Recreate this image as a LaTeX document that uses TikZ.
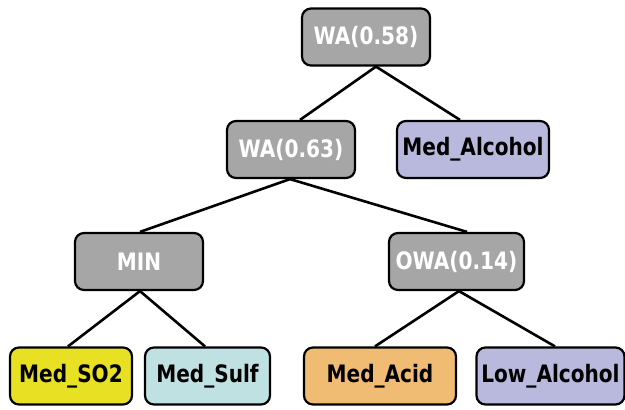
\documentclass[tikz,border=0pt]{standalone}
\usepackage{fontspec}
\setmainfont{DejaVu Sans Condensed}
\newfontfamily\nodefont[FakeStretch=0.93]{DejaVu Sans Condensed Bold}
\definecolor{opgray}{HTML}{A6A6A6}
\definecolor{cyel}{HTML}{E8E022}
\definecolor{cteal}{HTML}{BFE1E1}
\definecolor{corange}{HTML}{F0BB72}
\definecolor{clav}{HTML}{B9B9DD}
\tikzset{
  box/.style={draw=black, line width=2.2pt, rounded corners=9pt, inner sep=0pt,
    minimum height=57pt, font=\nodefont\fontsize{24}{27}\selectfont},
  opbox/.style={box, fill=opgray, text=white, minimum width=128pt},
  leaf/.style={box, text=black},
  edge/.style={line width=2.6pt}
}
\begin{document}
\begin{tikzpicture}[x=1pt,y=-1pt]
\useasboundingbox (0,0) rectangle (625,410);
\node[opbox] (r) at (366,37) {WA(0.58)};
\node[opbox] (a) at (291,149.5) {WA(0.63)};
\node[leaf, fill=clav, minimum width=152pt] (ma) at (473,149.5) {Med\_Alcohol};
\node[opbox] (mn) at (139,261.5) {MIN};
\node[opbox, minimum width=135pt] (ow) at (456.5,261.5) {OWA(0.14)};
\node[leaf, fill=cyel, minimum width=122pt] (so) at (71,376) {Med\_SO2};
\node[leaf, fill=cteal, minimum width=125pt] (su) at (207.5,376) {Med\_Sulf};
\node[leaf, fill=corange, minimum width=152pt] (ac) at (380,376) {Med\_Acid};
\node[leaf, fill=clav, minimum width=148pt] (la) at (550.5,376) {Low\_Alcohol};
\draw[edge] ([xshift=10pt]r.south) -- ([xshift=9pt]a.north);
\draw[edge] ([xshift=10pt]r.south) -- ([xshift=-13pt]ma.north);
\draw[edge] ([xshift=-1pt]a.south) -- ([xshift=1pt]mn.north);
\draw[edge] ([xshift=-1pt]a.south) -- ([xshift=10.5pt]ow.north);
\draw[edge] ([xshift=1pt]mn.south) -- ([xshift=-3pt]so.north);
\draw[edge] ([xshift=1pt]mn.south) -- ([xshift=-2.5pt]su.north);
\draw[edge] ([xshift=2.5pt]ow.south) -- ([xshift=-5pt]ac.north);
\draw[edge] ([xshift=2.5pt]ow.south) -- ([xshift=4.5pt]la.north);
\end{tikzpicture}
\end{document}
